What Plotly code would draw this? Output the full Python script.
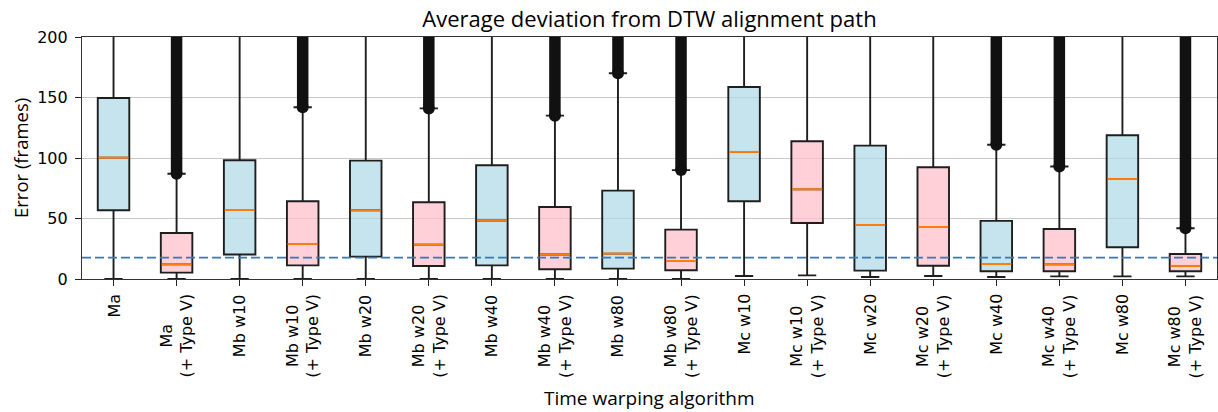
import plotly.graph_objects as go

# ---- data ----
labels = ["Ma", "Ma\n(+ Type V)", "Mb w10", "Mb w10\n(+ Type V)", "Mb w20", "Mb w20\n(+ Type V)",
          "Mb w40", "Mb w40\n(+ Type V)", "Mb w80", "Mb w80\n(+ Type V)", "Mc w10", "Mc w10\n(+ Type V)",
          "Mc w20", "Mc w20\n(+ Type V)", "Mc w40", "Mc w40\n(+ Type V)", "Mc w80", "Mc w80\n(+ Type V)"]
q1 = [56.8, 5.3, 20.2, 11.3, 18.5, 10.8, 11.3, 8.0, 8.6, 7.2, 64.2, 46.3, 6.9, 11.0, 6.4, 6.4, 26.2, 6.4]
medians = [100.3, 12.1, 57.0, 28.9, 56.8, 28.4, 48.3, 20.2, 21.0, 14.9, 105.0, 74.1, 44.6, 43.0, 12.4, 12.1, 82.6, 10.8]
q3 = [149.6, 38.0, 98.1, 64.2, 97.8, 63.4, 94.0, 59.5, 73.0, 40.8, 158.7, 113.8, 110.2, 92.3, 48.0, 41.3, 118.8, 20.7]
lower_whisker = [0, 0, 0, 0, 0, 0, 0, 0, 0, 0, 2.5, 3.0, 1.7, 2.5, 1.7, 2.2, 2.2, 2.2]
upper_whisker = [240, 87, 240, 142, 240, 141, 240, 135, 170, 90, 240, 240, 240, 240, 111, 93, 240, 42]
# outliers: dense column of fliers from whisker end to beyond the top of the axis
outlier_max = [None, 260, None, 260, None, 260, None, 260, 260, 260, None, None, None, None, 260, 260, None, 260]
reference_line = 17.7
y_ticks = [0, 50, 100, 150, 200]

BLUE = "rgba(173,216,230,0.7)"
PINK = "rgba(255,192,203,0.75)"
BOX_W = 0.5

fig = go.Figure()
n = len(labels)
for i in range(n):
    fig.add_trace(go.Box(
        x=[i], q1=[q1[i]], median=[medians[i]], q3=[q3[i]],
        lowerfence=[lower_whisker[i]], upperfence=[upper_whisker[i]],
        width=BOX_W, whiskerwidth=0.58, boxpoints=False,
        fillcolor=BLUE if i % 2 == 0 else PINK,
        line=dict(color="#1e1e1e", width=1.9),
        showlegend=False, hoverinfo="skip"))

# outlier columns
for i in range(n):
    if outlier_max[i] is None:
        continue
    fig.add_trace(go.Scatter(
        x=[i, i], y=[upper_whisker[i], outlier_max[i]], mode="lines",
        line=dict(color="#111111", width=11.5), showlegend=False, hoverinfo="skip"))
    fig.add_trace(go.Scatter(
        x=[i], y=[upper_whisker[i]], mode="markers",
        marker=dict(color="#111111", size=12, symbol="circle", line=dict(width=0)),
        showlegend=False, hoverinfo="skip"))

# orange median lines
mx, my = [], []
for i in range(n):
    mx += [i - BOX_W / 2 + 0.01, i + BOX_W / 2 - 0.01, None]
    my += [medians[i], medians[i], None]
fig.add_trace(go.Scatter(x=mx, y=my, mode="lines", line=dict(color="#ff7f0e", width=2),
                         showlegend=False, hoverinfo="skip"))

fig.add_shape(type="line", xref="paper", x0=0, x1=1, yref="y", y0=reference_line, y1=reference_line,
              line=dict(color="#3479c0", width=1.8, dash="9px,4px"), layer="above")

# x tick labels as centered multi-line rotated text
for i, lab in enumerate(labels):
    fig.add_annotation(x=i, xref="x", y=0, yref="paper", yanchor="top", xanchor="center",
                       yshift=-13, text=lab.replace("\n", "<br>"), textangle=-90, align="center",
                       showarrow=False, font=dict(family="DejaVu Sans", size=16, color="black"))

fig.add_annotation(x=0.5, xref="paper", y=0, yref="paper", yshift=-119, yanchor="middle",
                   text="Time warping algorithm", showarrow=False,
                   font=dict(family="Open Sans", size=19, color="black"))
fig.add_annotation(x=0, xref="paper", xshift=-62, y=0.5, yref="paper", xanchor="center",
                   text="Error (frames)", textangle=-90, showarrow=False,
                   font=dict(family="Open Sans", size=18.5, color="black"))

fig.update_layout(
    width=1218, height=412,
    margin=dict(l=82, r=1, t=37, b=133),
    paper_bgcolor="white", plot_bgcolor="white",
    title=dict(text="Average deviation from DTW alignment path", x=0.5, xref="paper",
               y=1 - 19 / 412, yref="container", yanchor="middle",
               font=dict(family="Open Sans", size=22, color="black")),
    xaxis=dict(range=[-0.5, n - 0.5], tickvals=list(range(n)), showticklabels=False,
               ticks="outside", ticklen=6, tickwidth=1.2, tickcolor="#222",
               showline=True, mirror=True, linecolor="#333", linewidth=1.2,
               showgrid=False, zeroline=False),
    yaxis=dict(range=[0, 200], tickvals=y_ticks, ticks="outside", ticklen=6, tickwidth=1.2,
               tickcolor="#222", showline=True, mirror=True, linecolor="#333", linewidth=1.2,
               showgrid=True, gridcolor="#c8c8c8", gridwidth=1, zeroline=False,
               ticklabelstandoff=4,
               tickfont=dict(family="DejaVu Sans", size=16, color="black")),
)

fig.write_html("out.html", config={"displayModeBar": False},
               post_script="document.body.style.margin='0';document.body.style.padding='0';")
